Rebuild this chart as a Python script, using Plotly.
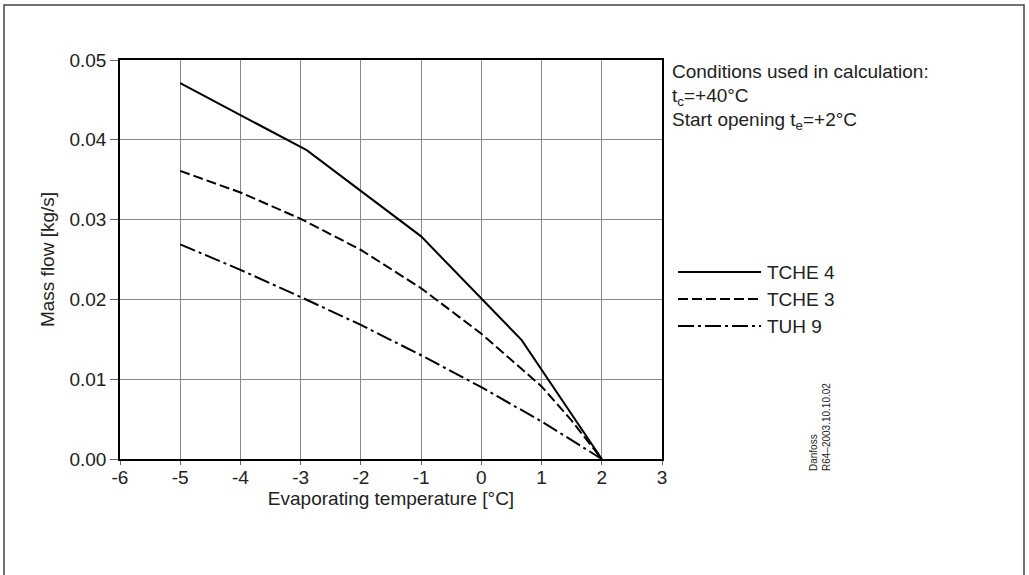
import plotly.graph_objects as go

# Evaporating temperature [°C] and mass flow [kg/s] per valve
tche4_t = [-5, -2.9, -1.0, 0.67, 2.0]
tche4_m = [0.0471, 0.0387, 0.0279, 0.0149, 0.0]

tche3_t = [-5, -4, -3, -2, -1, 0, 1, 1.5, 2.0]
tche3_m = [0.0361, 0.0334, 0.0301, 0.0262, 0.0214, 0.0157, 0.0091, 0.0048, 0.0]

tuh9_t = [-5, -4, -3, -2, -1, 0, 1, 2.0]
tuh9_m = [0.0269, 0.0237, 0.0203, 0.0168, 0.0130, 0.0090, 0.0047, 0.0]

x_ticks = [-6, -5, -4, -3, -2, -1, 0, 1, 2, 3]
y_ticks = [0.00, 0.01, 0.02, 0.03, 0.04, 0.05]

series = [
    ("TCHE 4", tche4_t, tche4_m, "solid"),
    ("TCHE 3", tche3_t, tche3_m, "10px,4px"),
    ("TUH 9", tuh9_t, tuh9_m, "16px,4px,3px,4px"),
]

FONT = "Liberation Sans, Arial, sans-serif"
TXT = "#222222"
FS = 19

fig = go.Figure()
for name, xs, ys, dash in series:
    fig.add_trace(go.Scatter(
        x=xs, y=ys, mode="lines", name=name, showlegend=False,
        line=dict(color="black", width=2, dash=dash),
    ))

fig.update_layout(
    width=1029, height=575,
    margin=dict(l=120, r=367, t=60, b=116),
    paper_bgcolor="white", plot_bgcolor="white",
    font=dict(family=FONT, size=FS, color=TXT),
)
fig.update_xaxes(
    range=[-6, 3], tickvals=x_ticks, ticktext=[str(v) for v in x_ticks],
    showgrid=True, gridcolor="#888888", gridwidth=1,
    showline=True, linecolor="black", linewidth=1.5, mirror=True,
    ticks="outside", ticklen=4, tickcolor="#666666",
    ticklabelstandoff=-4,
    zeroline=False,
    title=dict(text="Evaporating temperature [°C]", standoff=0,
               font=dict(size=FS, color=TXT)),
    tickfont=dict(size=FS, color=TXT),
)
fig.update_yaxes(
    range=[0, 0.05], tickvals=y_ticks, ticktext=[f"{v:.2f}" for v in y_ticks],
    showgrid=True, gridcolor="#888888", gridwidth=1,
    showline=True, linecolor="black", linewidth=1.5, mirror=True,
    ticks="outside", ticklen=8, tickcolor="#666666",
    zeroline=False,
    title=dict(text="Mass flow [kg/s]", standoff=10,
               font=dict(size=FS, color=TXT)),
    tickfont=dict(size=FS, color=TXT),
)

# Outer frame
fig.add_shape(type="rect", xref="paper", yref="paper",
              x0=-116 / 542, x1=(1024 - 120) / 542,
              y0=-130 / 399, y1=(459 - 5) / 399,
              line=dict(color="#444444", width=1.5))

# Legend drawn at the right of the plot
W, H = 542.0, 399.0
def px(xp):
    return (xp - 120) / W
def py(yp):
    return (459 - yp) / H

legend_y = [272, 299, 326]
for (name, _, _, dash), yy in zip(series, legend_y):
    fig.add_shape(type="line", xref="paper", yref="paper",
                  x0=px(678), x1=px(761), y0=py(yy), y1=py(yy),
                  line=dict(color="black", width=2, dash=dash))
    fig.add_annotation(xref="paper", yref="paper", x=px(765), y=py(yy),
                       text=name, showarrow=False, xanchor="left",
                       yanchor="middle", font=dict(size=FS, color=TXT))

notes = [
    ("Conditions used in calculation:", 71),
    ("t<sub>c</sub>=+40°C", 97),
    ("Start opening t<sub>e</sub>=+2°C", 121),
]
for text, yy in notes:
    fig.add_annotation(xref="paper", yref="paper", x=px(670), y=py(yy),
                       text=text, showarrow=False, xanchor="left",
                       yanchor="middle", font=dict(size=FS, color=TXT))

fig.add_annotation(xref="paper", yref="paper", x=px(820), y=py(427),
                   text="Danfoss<br>R64–2003.10.10.02", showarrow=False,
                   textangle=-90, align="left", xanchor="center",
                   yanchor="middle", font=dict(size=10, color=TXT))

fig.write_html("out.html")
